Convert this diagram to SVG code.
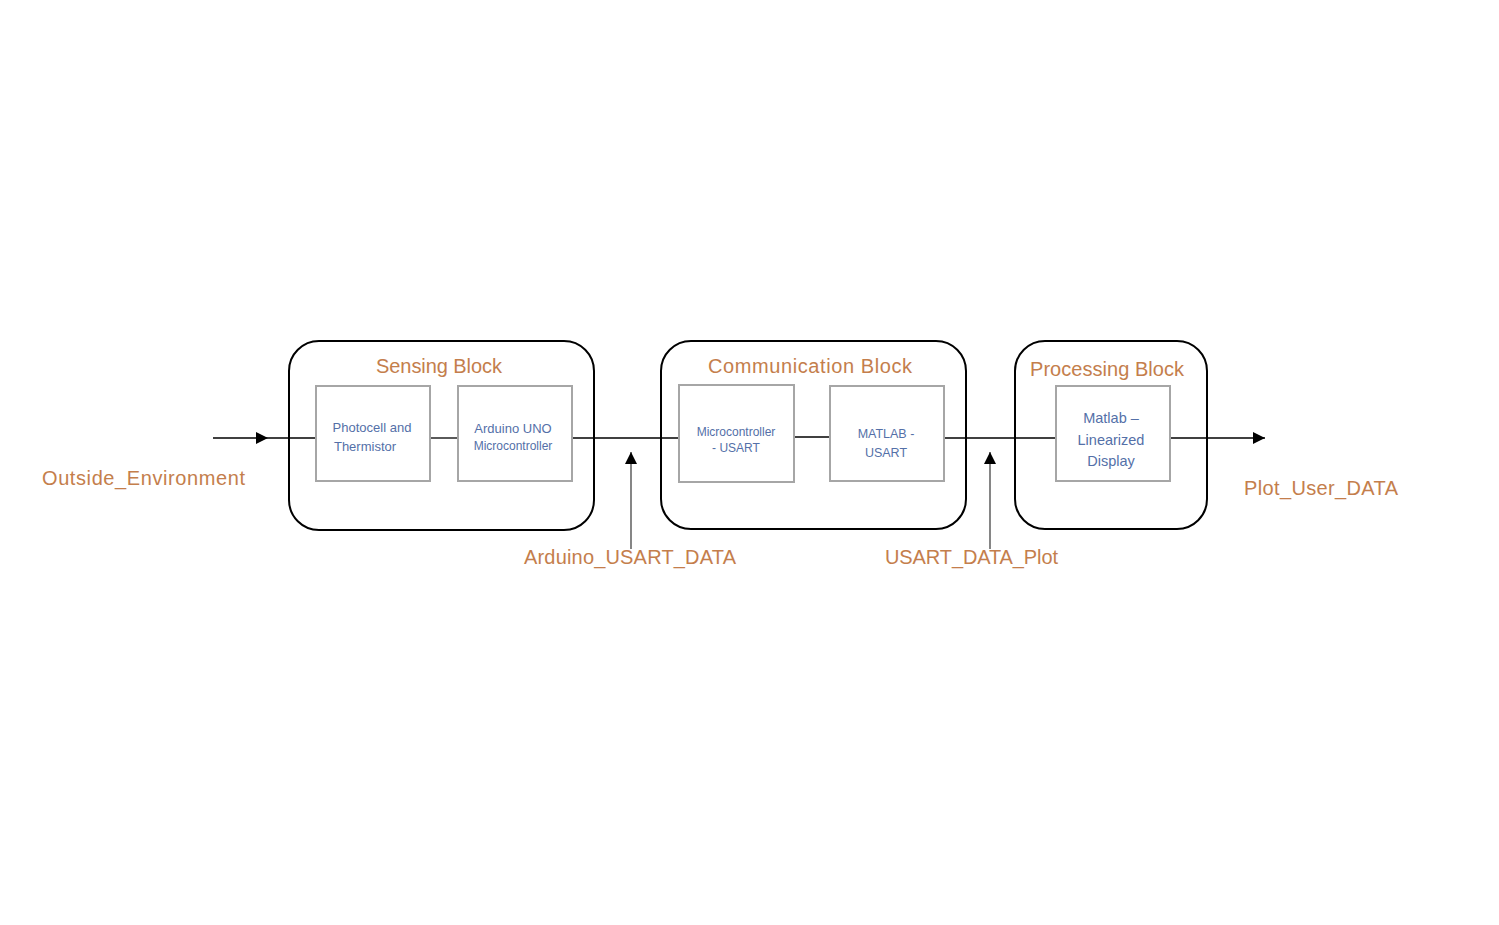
<svg xmlns="http://www.w3.org/2000/svg" width="1499" height="925" viewBox="0 0 1499 925">
<defs>
<marker id="ah" viewBox="0 0 10 10" refX="10" refY="5" markerWidth="13" markerHeight="12" markerUnits="userSpaceOnUse" orient="auto"><path d="M0,0 L10,5 L0,10 z" fill="#000"/></marker>
<style>
.blk{fill:#fff;stroke:#000;stroke-width:2}
.box{fill:#fff;stroke:#a6a6a6;stroke-width:2}
.ttl{font-family:"Liberation Sans",Arial,sans-serif;font-size:20px;fill:#C47E4C;text-anchor:middle}
.lbl{font-family:"Liberation Sans",Arial,sans-serif;font-size:20px;fill:#C47E4C}
.in{font-family:"Liberation Sans",Arial,sans-serif;fill:#5470A8;text-anchor:middle}
.ln{stroke:#000;stroke-width:1.3;fill:none}
.up{stroke:#444;stroke-width:1.3;fill:none}
</style>
</defs>
<rect width="1499" height="925" fill="#fff"/>
<g id="sensing-block">
<rect class="blk" x="289" y="341" width="305" height="189" rx="30"/>
<text class="ttl" x="439" y="373" textLength="126">Sensing Block</text>
</g>
<g id="communication-block">
<rect class="blk" x="661" y="341" width="305" height="188" rx="30"/>
<text class="ttl" x="810" y="373" textLength="204">Communication Block</text>
</g>
<g id="processing-block">
<rect class="blk" x="1015" y="341" width="192" height="188" rx="30"/>
<text class="ttl" x="1107" y="376" textLength="154">Processing Block</text>
</g>
<g id="connectors">
<line class="ln" x1="213" y1="438" x2="268" y2="438" marker-end="url(#ah)"/>
<line class="ln" x1="268" y1="438" x2="316" y2="438"/>
<line class="ln" x1="430" y1="438" x2="458" y2="438"/>
<line class="ln" x1="572" y1="438" x2="679" y2="438"/>
<line class="ln" x1="794" y1="437" x2="830" y2="437"/>
<line class="ln" x1="944" y1="438" x2="1056" y2="438"/>
<line class="ln" x1="1170" y1="438" x2="1265" y2="438" marker-end="url(#ah)"/>
<line class="up" x1="631" y1="549" x2="631" y2="452" marker-end="url(#ah)"/>
<line class="up" x1="990" y1="549" x2="990" y2="452" marker-end="url(#ah)"/>
</g>
<g id="photocell">
<rect class="box" x="316" y="386" width="114" height="95"/>
<text class="in" font-size="13" x="372" y="432">Photocell and</text>
<text class="in" font-size="13" x="365" y="451">Thermistor</text>
</g>
<g id="arduino">
<rect class="box" x="458" y="386" width="114" height="95"/>
<text class="in" font-size="13" x="513" y="433">Arduino UNO</text>
<text class="in" font-size="12" x="513" y="450">Microcontroller</text>
</g>
<g id="mcu-usart">
<rect class="box" x="679" y="385" width="115" height="97"/>
<text class="in" font-size="12" x="736" y="436">Microcontroller</text>
<text class="in" font-size="12" x="736" y="452">- USART</text>
</g>
<g id="matlab-usart">
<rect class="box" x="830" y="386" width="114" height="95"/>
<text class="in" font-size="12.5" x="886" y="438">MATLAB -</text>
<text class="in" font-size="12.5" x="886" y="457">USART</text>
</g>
<g id="matlab-display">
<rect class="box" x="1056" y="386" width="114" height="95"/>
<text class="in" font-size="14.5" x="1111" y="423">Matlab –</text>
<text class="in" font-size="14.5" x="1111" y="445">Linearized</text>
<text class="in" font-size="14.5" x="1111" y="466">Display</text>
</g>
<g id="labels">
<text class="lbl" x="42" y="485" textLength="203">Outside_Environment</text>
<text class="lbl" x="524" y="564" textLength="212">Arduino_USART_DATA</text>
<text class="lbl" x="885" y="564" textLength="173">USART_DATA_Plot</text>
<text class="lbl" x="1244" y="495" textLength="154">Plot_User_DATA</text>
</g>
</svg>
